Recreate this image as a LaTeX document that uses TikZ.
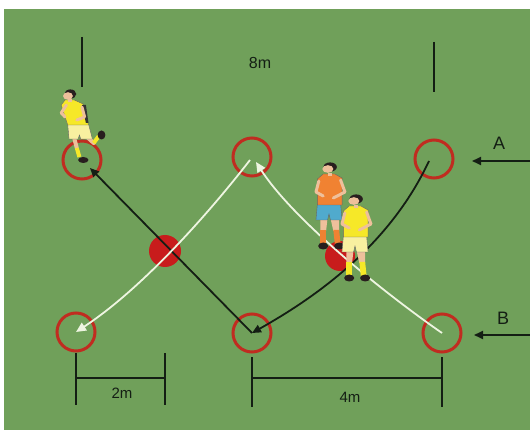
\documentclass[tikz,border=0pt]{standalone}
\usepackage{fontspec}
\setmainfont{Liberation Sans}
\usetikzlibrary{arrows.meta}
\definecolor{field}{RGB}{112,160,90}
\definecolor{ringred}{RGB}{192,44,32}
\definecolor{dotred}{RGB}{200,28,28}
\definecolor{skin}{RGB}{238,192,155}
\definecolor{hair}{RGB}{40,30,30}
\definecolor{shirtyellow}{RGB}{246,232,40}
\definecolor{shortyellow}{RGB}{248,240,160}
\definecolor{shirtorange}{RGB}{240,130,50}
\definecolor{shortblue}{RGB}{80,170,205}
\definecolor{ink}{RGB}{20,30,20}
\definecolor{chalk}{RGB}{238,245,225}
\tikzset{
  ring/.style={circle, draw=ringred, line width=3pt, minimum size=38pt, inner sep=0pt},
  reddot/.style={circle, fill=dotred, inner sep=0pt},
  label/.style={text=ink, inner sep=0pt},
  blkline/.style={draw=ink, line width=1.8pt, -{Triangle[length=9pt,width=8pt]}},
  whtline/.style={draw=chalk, line width=1.8pt, -{Triangle[length=10pt,width=9pt]}},
  post/.style={draw=ink, line width=2.2pt},
  dimline/.style={draw=ink, line width=2pt},
  pics/player/.style n args={3}{code={
    \fill[skin] (-6,50) -- (-1,50) -- (-2,63) -- (-6,63) -- cycle;
    \fill[#3] (-6,62) -- (-2,62) -- (-2,76) -- (-6,76) -- cycle;
    \fill[skin] (1,50) -- (7,50) -- (7,63) -- (3,63) -- cycle;
    \fill[#3] (3,62) -- (7,62) -- (8,76) -- (4,76) -- cycle;
    \fill[hair] (-4,78) ellipse [x radius=3.5, y radius=3.5];
    \fill[hair] (7,78) ellipse [x radius=3.5, y radius=3.5];
    \filldraw[fill=#2, draw=black!60, line width=0.4pt] (-8,36) -- (8,36) -- (9,52) -- (1,52) -- (0,46) -- (-1,52) -- (-9,52) -- cycle;
    \filldraw[fill=#1, draw=black!60, line width=0.4pt] (-4,6) -- (4,6) -- (9,10) -- (9,37) -- (-8,37) -- (-8,11) -- cycle;
    \draw[skin, line width=3pt, line cap=round, line join=round] (8,12) -- (11,24) -- (3,30);
    \draw[skin, line width=3pt, line cap=round, line join=round] (-7,13) -- (-9,24) -- (-4,28);
    \fill[skin] (-1,5) rectangle (2,8);
    \fill[hair] (0.8,-1) circle (4.6);
    \fill[skin] (-0.8,1) circle (3.8);
  }},
  pics/runner/.style={code={
    \draw[skin, line width=4pt, line cap=round] (4,43) -- (6,53);
    \draw[shirtyellow, line width=4pt] (6,53) -- (8,62);
    \draw[skin, line width=4pt, line cap=round] (14,42) -- (19,48);
    \draw[shirtyellow, line width=4pt] (19,48) -- (23,41);
    \fill[hair] (11,65) ellipse [x radius=4, y radius=3];
    \fill[hair] (25,40) ellipse [x radius=3, y radius=4.5];
    \filldraw[fill=shortyellow, draw=black!60, line width=0.4pt] (-1,29) -- (15,29) -- (18,44) -- (9,44) -- (8,40) -- (7,44) -- (0,44) -- cycle;
    \filldraw[fill=shirtyellow, draw=black!60, line width=0.4pt] (-3,5) -- (4,5) -- (11,9) -- (15,30) -- (-1,30) -- (-6,10) -- cycle;
    \fill[black!80] (10,10) -- (13,10) -- (15,28) -- (13,28) -- cycle;
    \draw[skin, line width=3pt, line cap=round, line join=round] (-2,10) -- (-6,18) -- (-3,22);
    \draw[skin, line width=3pt, line cap=round, line join=round] (10,12) -- (12,22) -- (6,25);
    \fill[skin] (-1,4) rectangle (2,7);
    \fill[hair] (1,-1) circle (4.6);
    \fill[skin] (-0.8,1) circle (3.8);
  }}
}
\begin{document}
\begin{tikzpicture}[x=1pt, y=-1pt]
\useasboundingbox (0,0) rectangle (530,430);
\fill[field] (4,9) rectangle (530,430);

% posts
\coordinate (p1a) at (82,37);  \coordinate (p1b) at (82,87);
\coordinate (p2a) at (434,42); \coordinate (p2b) at (434,92);
\draw[post] (p1a) -- (p1b);
\draw[post] (p2a) -- (p2b);

% cones (rings) and balls
\node[ring] (c1) at (82,160) {};
\node[ring] (c2) at (252,157) {};
\node[ring] (c3) at (434,159) {};
\node[ring] (c4) at (76,332) {};
\node[ring] (c5) at (252,333) {};
\node[ring] (c6) at (442,333) {};
\node[reddot, minimum size=32pt] (d1) at (165,251) {};
\node[reddot, minimum size=30pt] (d2) at (340,256) {};

% paths
\draw[blkline] ([shift={(-5,2)}]c3.center) .. controls (392,240) and (325,292) .. (c5.center);
\draw[blkline] (c5.center) -- ([shift={(8,8)}]c1.center);
\draw[whtline] (c6.center) .. controls (380,290) and (292,218) .. ([shift={(4,5)}]c2.center);
\draw[whtline] ([shift={(-2,3)}]c2.center) .. controls (205,218) and (140,290) .. (c4.center);

% side arrows
\coordinate (aS) at (530,161); \coordinate (aE) at (472,161);
\coordinate (bS) at (530,335); \coordinate (bE) at (474,335);
\draw[blkline] (aS) -- (aE);
\draw[blkline] (bS) -- (bE);
\node[label, font=\fontsize{18}{18}\selectfont] (tA) at (499,143) {A};
\node[label, font=\fontsize{18}{18}\selectfont] (tB) at (503,318) {B};

% dimensions
\coordinate (m1a) at (76,353);  \coordinate (m1b) at (76,405);
\coordinate (m2a) at (165,353); \coordinate (m2b) at (165,405);
\coordinate (m1c) at (76,378);  \coordinate (m2c) at (165,378);
\draw[dimline] (m1a) -- (m1b);
\draw[dimline] (m2a) -- (m2b);
\draw[dimline] (m1c) -- (m2c);
\coordinate (m3a) at (252,357); \coordinate (m3b) at (252,407);
\coordinate (m4a) at (442,357); \coordinate (m4b) at (442,407);
\coordinate (m3c) at (252,378); \coordinate (m4c) at (442,378);
\draw[dimline] (m3a) -- (m3b);
\draw[dimline] (m4a) -- (m4b);
\draw[dimline] (m3c) -- (m4c);
\node[label, font=\fontsize{15}{15}\selectfont] (t2) at (122,393) {2m};
\node[label, font=\fontsize{15}{15}\selectfont] (t4) at (350,397) {4m};
\node[label, font=\fontsize{16}{16}\selectfont] (t8) at (260,63) {8m};

% players
\pic[xscale=1.3] at (69,95) {runner};
\pic[xscale=1.45] at (329,168) {player={shirtorange}{shortblue}{shirtorange}};
\pic[xscale=1.45] at (355,200) {player={shirtyellow}{shortyellow}{shirtyellow}};
\end{tikzpicture}
\end{document}
